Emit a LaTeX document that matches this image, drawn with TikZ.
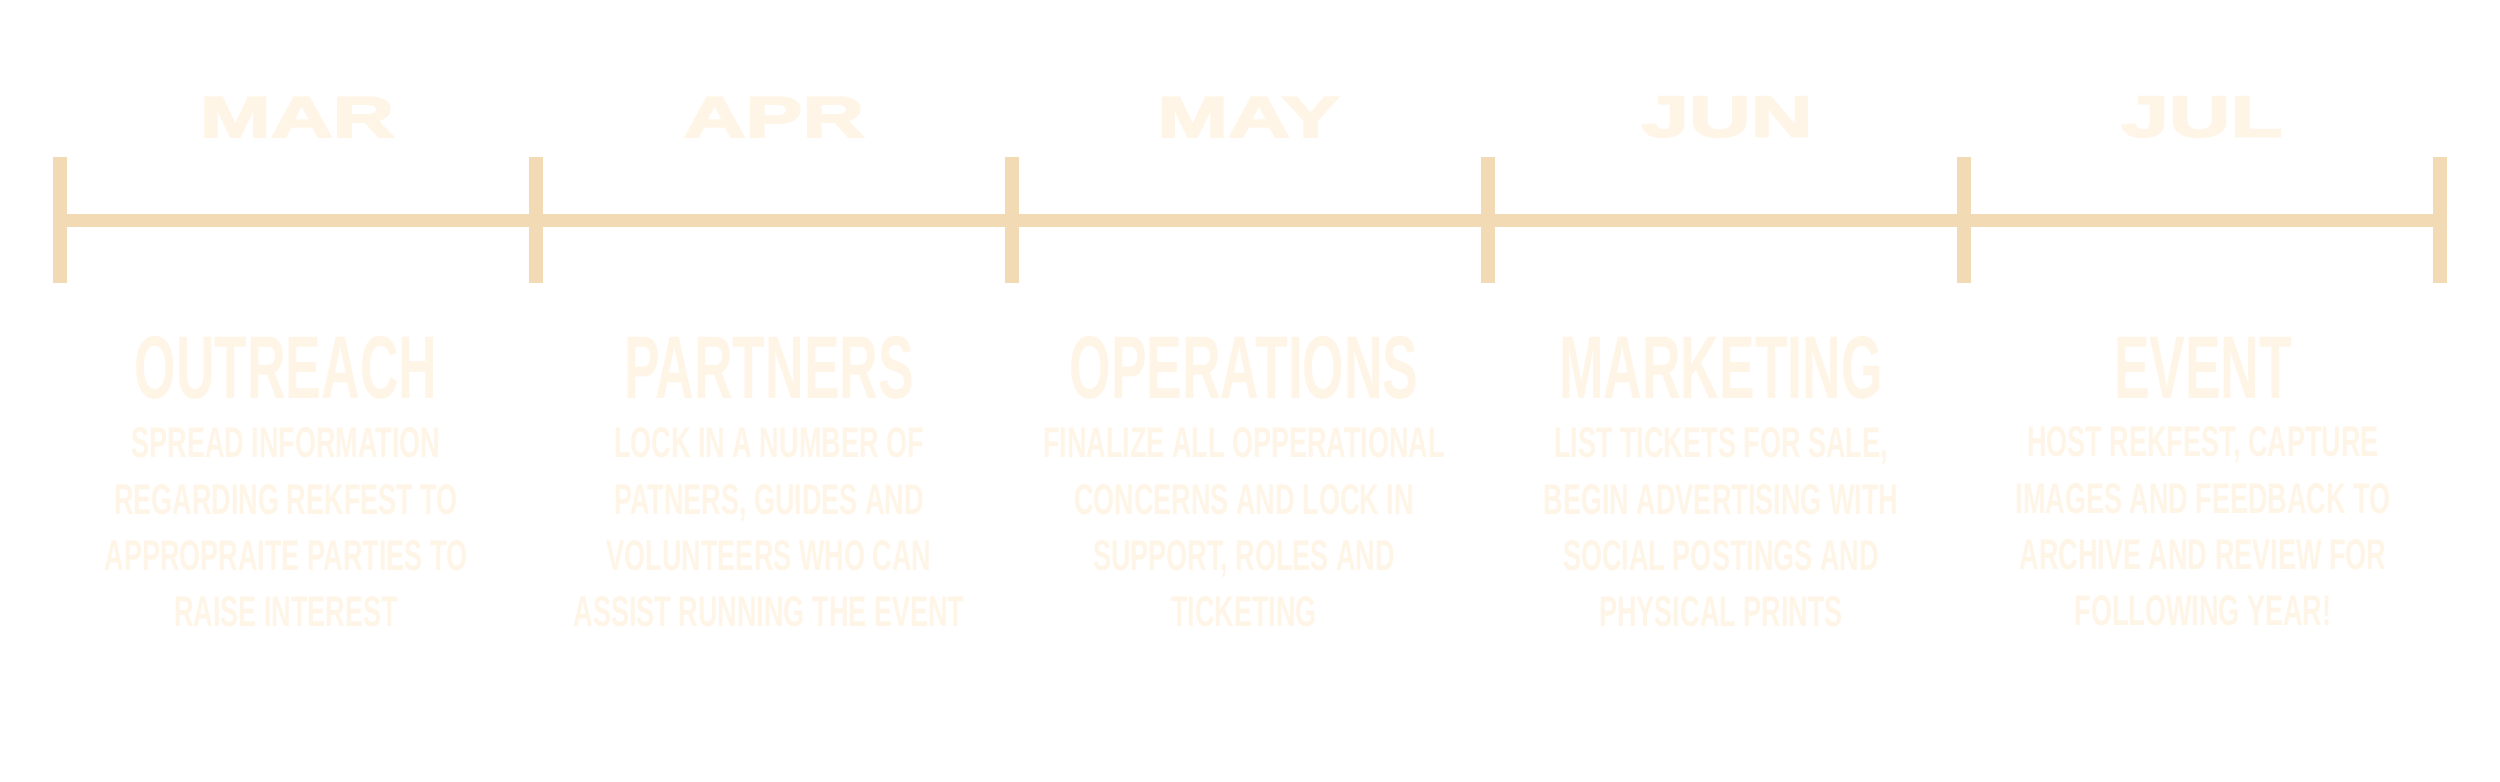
\documentclass[tikz,border=0pt]{standalone}
\usepackage{fontspec}
\setmainfont{Liberation Sans}
\newfontfamily\narrowfont[FakeStretch=0.63]{Liberation Sans}
\newfontfamily\titlefont[FakeStretch=0.6]{Liberation Sans}
\newfontfamily\widefont[FakeStretch=1.5,FakeBold=4]{Liberation Sans}
\usepackage{xcolor}
\usetikzlibrary{positioning}
\definecolor{linetan}{HTML}{F2DAB4}
\definecolor{creamtext}{HTML}{FFF5E6}

\begin{document}
\begin{tikzpicture}[x=0.01cm,y=-0.01cm,
 bar/.style={draw=linetan,line width=0.13cm},
 stopmark/.style={draw=linetan,line width=0.14cm},
 month/.style={font=\widefont\bfseries\fontsize{16.2}{19}\selectfont,text=creamtext,inner sep=0},
 phase/.style={font=\titlefont\bfseries\fontsize{25.3}{30}\selectfont,text=creamtext,inner sep=0},
 detail/.style={font=\narrowfont\bfseries\fontsize{12.2}{16}\selectfont,text=creamtext,align=center,inner sep=0}]
\fill[white] (0,0) rectangle (2500,781);
\useasboundingbox (0,0) rectangle (2500,781);
% timeline stops
\coordinate (t0) at (60,220);
\coordinate (t1) at (536,220);
\coordinate (t2) at (1012,220);
\coordinate (t3) at (1488,220);
\coordinate (t4) at (1964,220);
\coordinate (t5) at (2440,220);
\draw[bar] (t0) -- (t5);
\draw[stopmark] ([yshift=0.63cm]t0) -- ([yshift=-0.63cm]t0);
\draw[stopmark] ([yshift=0.63cm]t1) -- ([yshift=-0.63cm]t1);
\draw[stopmark] ([yshift=0.63cm]t2) -- ([yshift=-0.63cm]t2);
\draw[stopmark] ([yshift=0.63cm]t3) -- ([yshift=-0.63cm]t3);
\draw[stopmark] ([yshift=0.63cm]t4) -- ([yshift=-0.63cm]t4);
\draw[stopmark] ([yshift=0.63cm]t5) -- ([yshift=-0.63cm]t5);
% months
\node[month] (mMar) at (297,117) {MAR};
\node[month] (mApr) at (774,117) {APR};
\node[month] (mMay) at (1248,117) {MAY};
\node[month] (mJun) at (1727,117) {JUN};
\node[month] (mJul) at (2202,117) {JUL};
% phases
\node[phase] (pOutreach) at (286,368) {OUTREACH};
\node[phase] (pPartners) at (769,368) {PARTNERS};
\node[phase] (pOperations) at (1244,368) {OPERATIONS};
\node[phase] (pMarketing) at (1721,368) {MARKETING};
\node[phase] (pEvent) at (2203,368) {EVENT};
\node[detail,below=0.27cm of pOutreach] (dOutreach) {SPREAD INFORMATION\\REGARDING REKFEST TO\\APPROPRAITE PARTIES TO\\RAISE INTEREST};
\node[detail,below=0.27cm of pPartners] (dPartners) {LOCK IN A NUMBER OF\\PATNERS, GUIDES AND\\VOLUNTEERS WHO CAN\\ASSIST RUNNING THE EVENT};
\node[detail,below=0.27cm of pOperations] (dOperations) {FINALIZE ALL OPPERATIONAL\\CONCERNS AND LOCK IN\\SUPPORT, ROLES AND\\TICKETING};
\node[detail,below=0.27cm of pMarketing] (dMarketing) {LIST TICKETS FOR SALE,\\BEGIN ADVERTISING WITH\\SOCIAL POSTINGS AND\\PHYSICAL PRINTS};
\node[detail,below=0.27cm of pEvent] (dEvent) {HOST REKFEST, CAPTURE\\IMAGES AND FEEDBACK TO\\ARCHIVE AND REVIEW FOR\\FOLLOWING YEAR!};
\end{tikzpicture}
\end{document}
